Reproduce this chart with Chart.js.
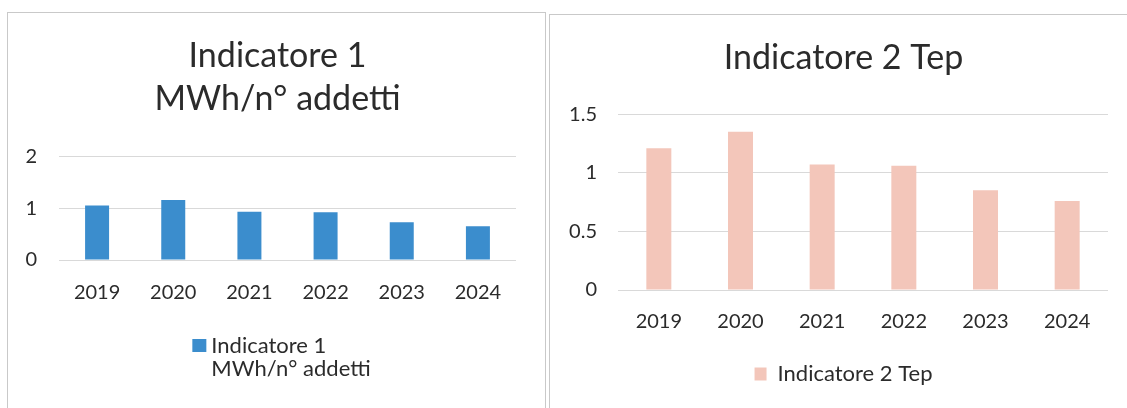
<!DOCTYPE html>
<html>
<head>
<meta charset="utf-8">
<script src="https://cdn.jsdelivr.net/npm/chart.js@4.4.1/dist/chart.umd.min.js"></script>
<style>
  html, body { margin: 0; padding: 0; background: #fff; }
  body { width: 1127px; height: 408px; position: relative; overflow: hidden; }
  canvas { position: absolute; }
  #c1 { left: 7px; top: 12px; }
  #c2 { left: 550px; top: 15px; }
  .panel { position: absolute; border: 1px solid #c9c9c9; border-bottom: none; }
</style>
</head>
<body>
<div class="panel" style="left:7px;top:12px;width:537px;height:400px;"></div>
<div class="panel" style="left:549px;top:14px;width:600px;height:400px;border-right:none;"></div>
<canvas id="c1" width="541" height="396"></canvas>
<canvas id="c2" width="577" height="393"></canvas>
<script>
// years on the x axis (same for both charts)
const years = ['2019', '2020', '2021', '2022', '2023', '2024'];

// chart 1 - MWh per employee
const title1 = ['Indicatore 1', 'MWh/n° addetti'];
const label1 = 'Indicatore 1 MWh/n° addetti';
const legendLines1 = ['Indicatore 1', 'MWh/n° addetti'];
const values1 = [1.05, 1.16, 0.93, 0.92, 0.73, 0.65];
const yTicks1 = { max: 2, step: 1 };

// chart 2 - Tep
const title2 = 'Indicatore 2 Tep';
const label2 = 'Indicatore 2 Tep';
const values2 = [1.21, 1.35, 1.07, 1.06, 0.85, 0.76];
const yTicks2 = { max: 1.5, step: 0.5 };

const blue = '#3b8dcd';
const pink = '#f3c6ba';
const txt = '#2b2b2b';
const grid = '#d9d9d9';

Chart.defaults.font.family = 'Lato';
Chart.defaults.color = txt;

// Excel wraps the long legend entry on two lines, the built-in legend can't
const wrapLegend = {
  id: 'wrapLegend',
  afterDraw(chart) {
    const ctx = chart.ctx;
    const ds = chart.data.datasets[0];
    ctx.save();
    ctx.font = '22px Lato';
    const tw = Math.max(...legendLines1.map(l => ctx.measureText(l).width));
    const box = 14, gap = 5;
    const cx = (chart.chartArea.left + chart.chartArea.right) / 2 - 6;
    const x0 = cx - (box + gap + tw) / 2;
    const y0 = chart.chartArea.bottom + 86;
    ctx.fillStyle = ds.backgroundColor;
    ctx.fillRect(x0, y0 - 7, box, 13);
    ctx.fillStyle = txt;
    ctx.textBaseline = 'middle';
    ctx.textAlign = 'left';
    legendLines1.forEach((l, i) => ctx.fillText(l, x0 + box + gap, y0 + i * 22.5));
    ctx.restore();
  }
};

// yWidth: left axis box, spare: empty right axis so the title sits where Excel put it
function axes(t, yWidth, spare, xHeight, xPad, yPad) {
  return {
    x: {
      grid: { display: false, drawTicks: false },
      border: { display: false },
      ticks: { font: { size: 20 }, padding: xPad },
      afterFit: s => { s.height = xHeight; }
    },
    y: {
      min: 0, max: t.max,
      grid: { color: grid, drawTicks: false },
      border: { display: false },
      ticks: { stepSize: t.step, font: { size: 20 }, padding: yPad,
               callback: v => String(v) },
      afterFit: s => { s.width = yWidth; }
    },
    spare: {
      type: 'linear', position: 'right',
      grid: { display: false, drawTicks: false },
      border: { display: false },
      ticks: { display: false },
      afterFit: s => { s.width = spare; }
    }
  };
}

new Chart(document.getElementById('c1'), {
  type: 'bar',
  data: {
    labels: years,
    datasets: [{ label: label1, data: values1, backgroundColor: blue, borderWidth: 0,
                 barPercentage: 0.315, categoryPercentage: 1 }]
  },
  options: {
    responsive: false,
    animation: false,
    layout: { padding: { left: 14, right: 14, top: 0, bottom: 88 } },
    plugins: {
      legend: { display: false },
      tooltip: { enabled: false },
      title: {
        display: true, text: title1, color: txt,
        font: { size: 34, weight: 'normal', lineHeight: 1.27 },
        padding: { top: 22, bottom: 36 }
      }
    },
    scales: axes(yTicks1, 38, 18, 60, 21, 22)
  },
  plugins: [wrapLegend]
});

new Chart(document.getElementById('c2'), {
  type: 'bar',
  data: {
    labels: years,
    datasets: [{ label: label2, data: values2, backgroundColor: pink, borderWidth: 0,
                 barPercentage: 0.306, categoryPercentage: 1 }]
  },
  options: {
    responsive: false,
    animation: false,
    layout: { padding: { left: 10, right: 0, top: 0, bottom: 13 } },
    plugins: {
      legend: {
        position: 'bottom',
        labels: { boxWidth: 12, boxHeight: 13, padding: 10, font: { size: 22 }, color: txt }
      },
      tooltip: { enabled: false },
      title: {
        display: true, text: title2, color: txt,
        font: { size: 34, weight: 'normal', lineHeight: 1.27 },
        padding: { top: 21, bottom: 35 }
      }
    },
    scales: axes(yTicks2, 58, 19, 63, 20, 21)
  }
});
</script>
</body>
</html>
